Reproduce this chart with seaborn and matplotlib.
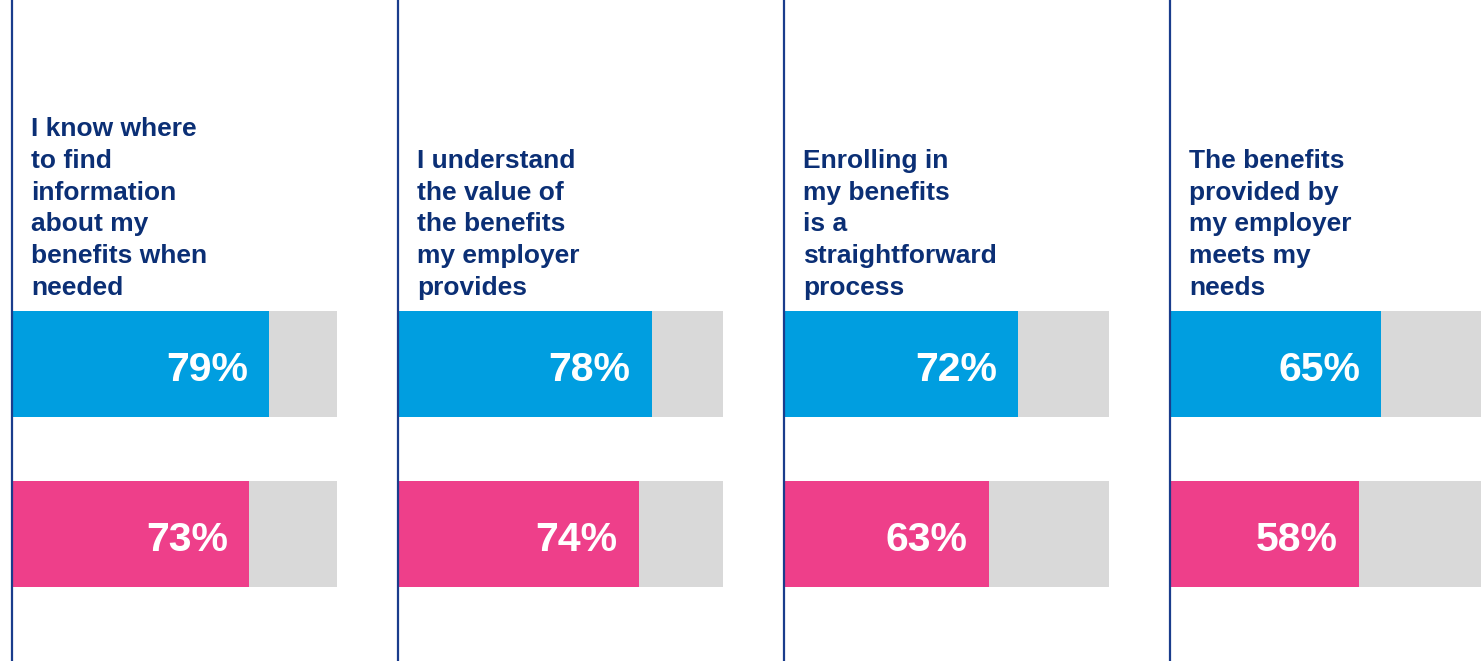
import matplotlib
matplotlib.use("Agg")
import matplotlib.pyplot as plt
import seaborn as sns
import pandas as pd

# Survey statements and agreement shares for the two groups
statements = [
    "I know where\nto find\ninformation\nabout my\nbenefits when\nneeded",
    "I understand\nthe value of\nthe benefits\nmy employer\nprovides",
    "Enrolling in\nmy benefits\nis a\nstraightforward\nprocess",
    "The benefits\nprovided by\nmy employer\nmeets my\nneeds",
]
group_a = [79, 78, 72, 65]
group_b = [73, 74, 63, 58]
total = [100, 100, 100, 100]
groups = ["Group A", "Group B"]

BLUE = "#009EE0"
PINK = "#EE3F8A"
GRAY = "#D9D9D9"
NAVY = "#0B2F75"
LINE = "#1A3C8C"

sns.set_theme(style="white")
plt.rcParams["font.family"] = ["Liberation Sans", "DejaVu Sans"]

W, H = 1481, 661
fig = plt.figure(figsize=(W / 100, H / 100), dpi=100)

panel_left = [12, 398, 784, 1170]
panel_width = 325
bar_centers = [364, 534]   # pixel rows (from top) of the two bars
row_step = bar_centers[1] - bar_centers[0]

for i, text in enumerate(statements):
    ax = fig.add_axes([panel_left[i] / W, 0, panel_width / W, 1])
    df = pd.DataFrame({
        "group": groups,
        "value": [group_a[i], group_b[i]],
        "total": [total[i], total[i]],
    })
    sns.barplot(data=df, x="total", y="group", orient="h", color=GRAY,
                width=0.62, saturation=1, ax=ax)
    sns.barplot(data=df, x="value", y="group", orient="h", hue="group",
                palette=[BLUE, PINK], width=0.62, saturation=1,
                legend=False, ax=ax)
    for p in ax.patches:
        p.set_linewidth(0)

    ax.set_xlim(0, 100)
    top = 0 - bar_centers[0] / row_step
    bottom = 1 + (H - bar_centers[1]) / row_step
    ax.set_ylim(bottom, top)

    for j, v in enumerate(df["value"]):
        ax.annotate(f"{v}%", xy=(v, j), xytext=(-21, -17),
                    textcoords="offset pixels", ha="right", va="baseline",
                    color="white", fontsize=29.5, fontweight="bold")

    ax.set_xlabel("")
    ax.set_ylabel("")
    ax.set_xticks([])
    ax.set_yticks([])
    for side in ["top", "right", "bottom"]:
        ax.spines[side].set_visible(False)
    ax.spines["left"].set_color(LINE)
    ax.spines["left"].set_linewidth(1.6)
    ax.spines["left"].set_zorder(5)

    fig.text((panel_left[i] + 19) / W, (H - 300) / H, text,
             ha="left", va="bottom", color=NAVY, fontsize=19,
             fontweight="bold", linespacing=1.41)

fig.savefig("out.png", dpi=100)
